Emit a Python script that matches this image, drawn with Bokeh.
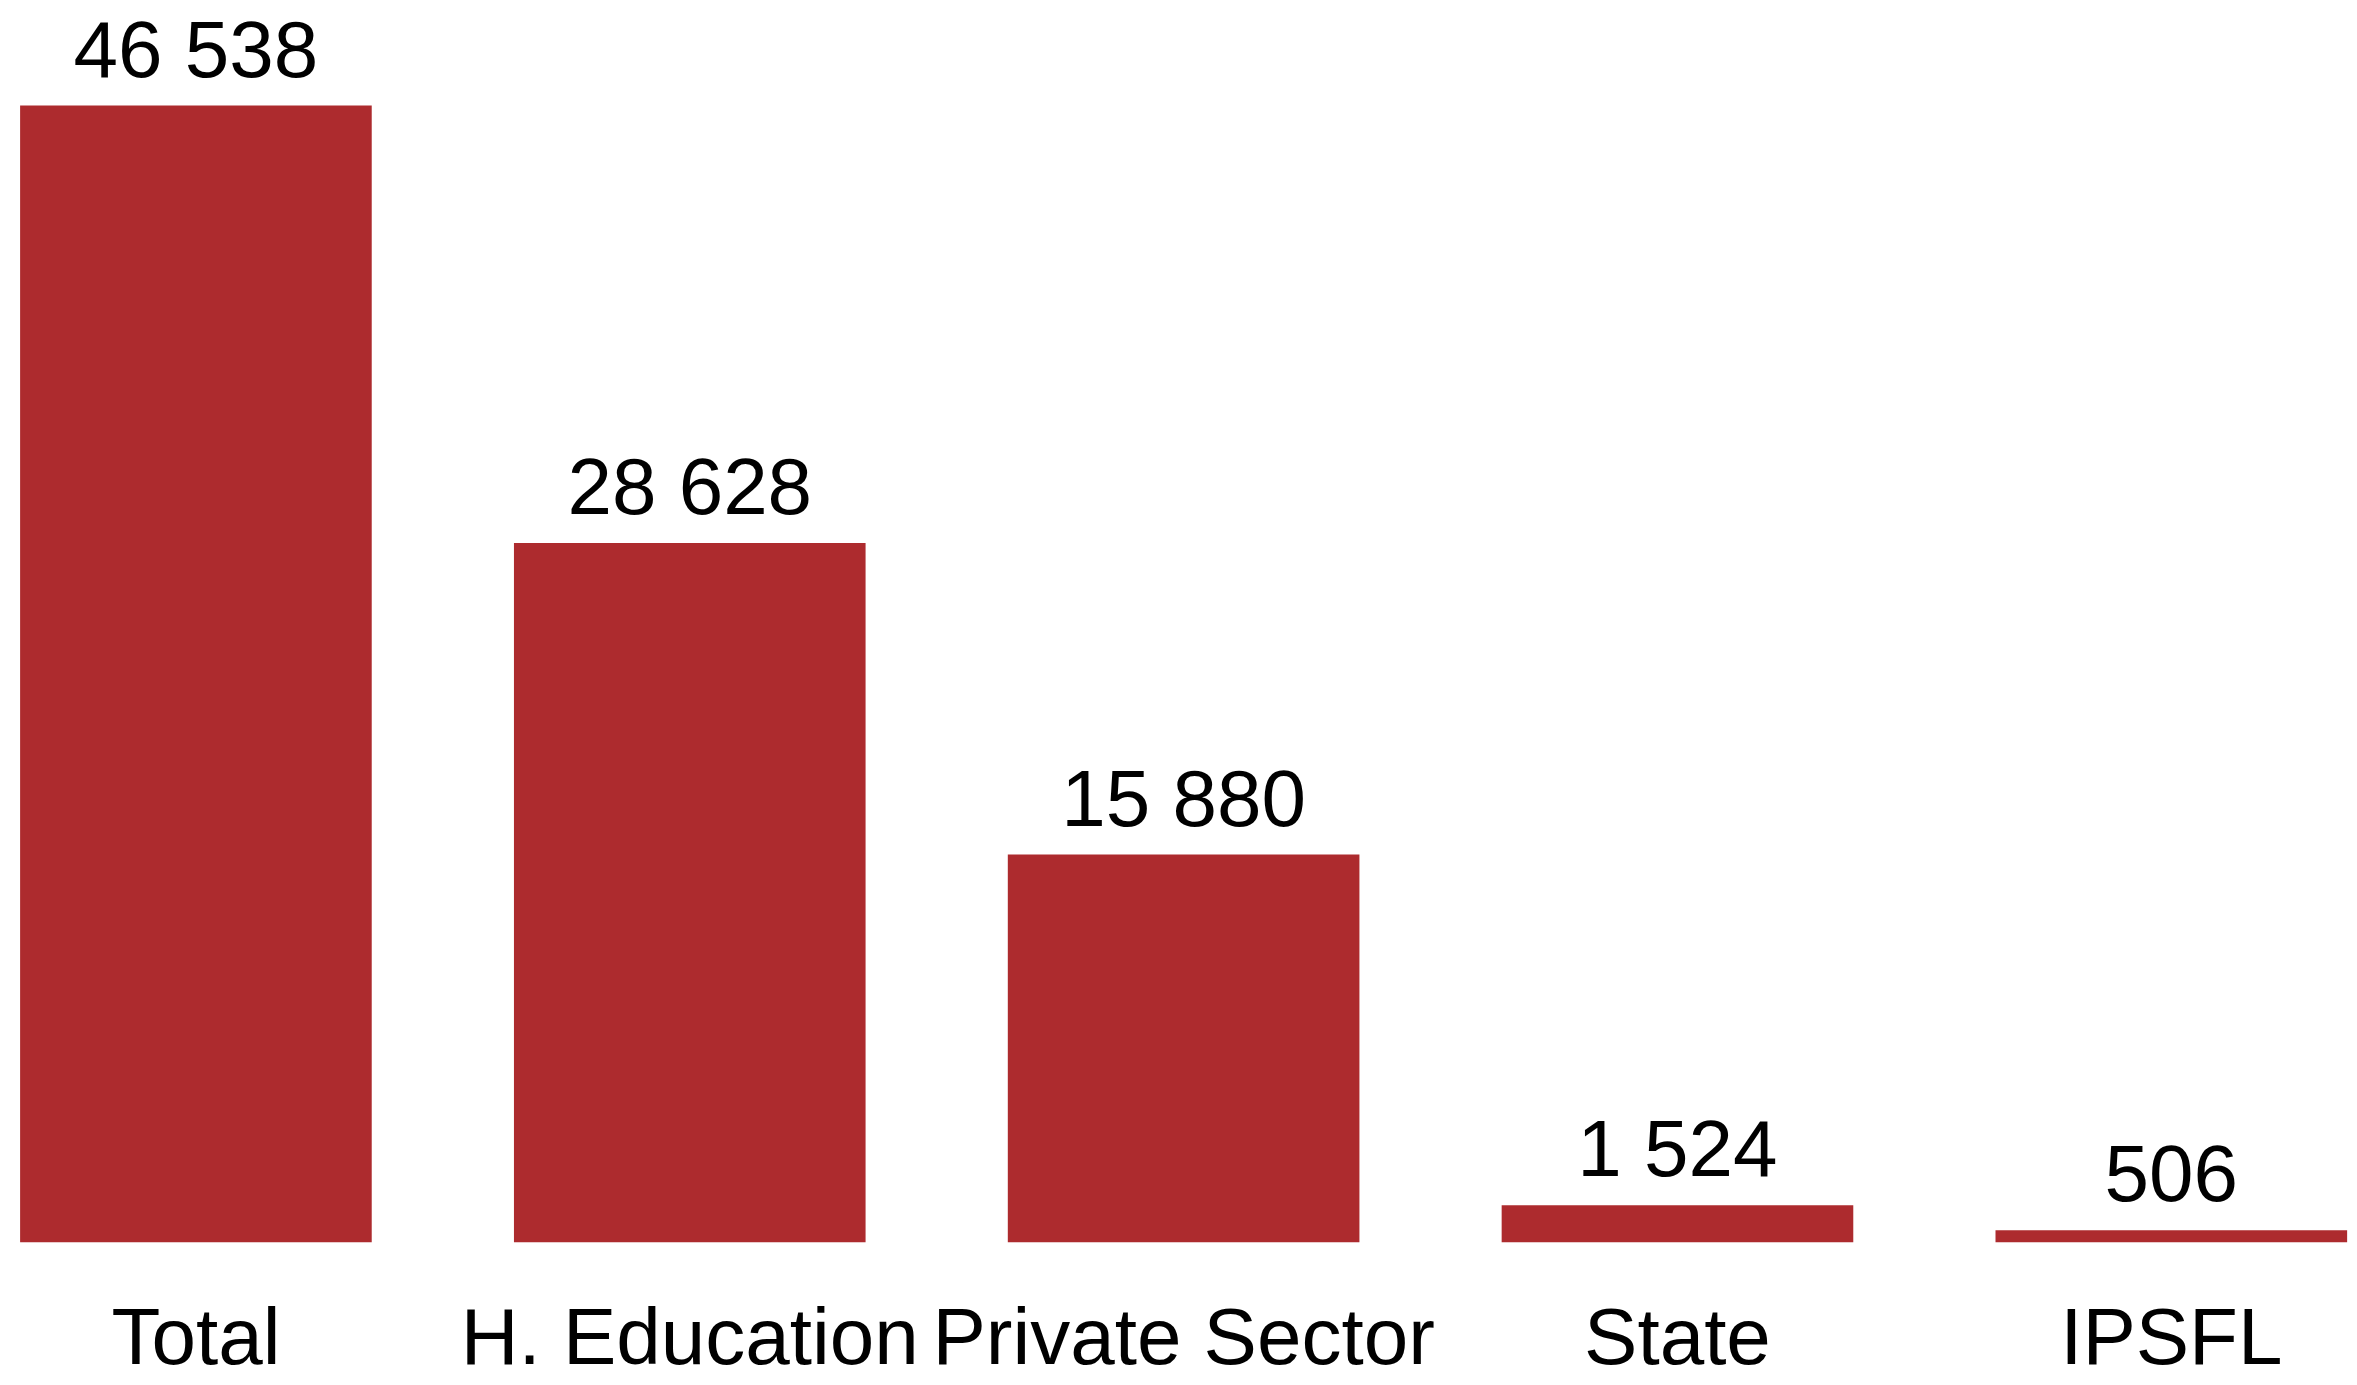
from bokeh.plotting import figure
from bokeh.models import ColumnDataSource, LabelSet, Range1d, FixedTicker
from bokeh.core.properties import value
from bokeh.embed import file_html
from bokeh.resources import INLINE

categories = ["Total", "H. Education", "Private Sector", "State", "IPSFL"]
values = [46538, 28628, 15880, 1524, 506]
labels = [f"{v:,}".replace(",", " ") for v in values]

FONT = "Liberation Sans"
RED = "#AD2B2E"

xs = list(range(len(categories)))
src = ColumnDataSource(dict(x=xs, top=values, lab=labels))

frame_h = 1242
top_px = 105
y_end = max(values) * frame_h / (frame_h - top_px)

p = figure(frame_width=2357, frame_height=frame_h, output_backend="svg",
           toolbar_location=None, min_border=0,
           x_range=Range1d(-0.3957, 4.377), y_range=Range1d(0, y_end))
p.vbar(x="x", top="top", bottom=0, width=0.712, source=src,
       fill_color=RED, line_color=None)

p.add_layout(LabelSet(x="x", y="top", text="lab", source=src, y_offset=29,
                      text_align="center", text_baseline="alphabetic",
                      text_font=value(FONT), text_font_size=value("80px"),
                      text_color="black"))

p.yaxis.visible = False
p.xgrid.visible = False
p.ygrid.visible = False
p.outline_line_color = None
p.background_fill_color = "white"
p.border_fill_color = "white"

ax = p.xaxis[0]
ax.ticker = FixedTicker(ticks=xs)
ax.major_label_overrides = {i: c for i, c in enumerate(categories)}
ax.axis_line_color = None
ax.major_tick_line_color = None
ax.minor_tick_line_color = None
ax.major_tick_in = 0
ax.major_tick_out = 0
ax.major_label_standoff = 49
ax.major_label_text_font = FONT
ax.major_label_text_font_size = "80px"
ax.major_label_text_color = "black"

open("out.html", "w").write(file_html(p, INLINE))
